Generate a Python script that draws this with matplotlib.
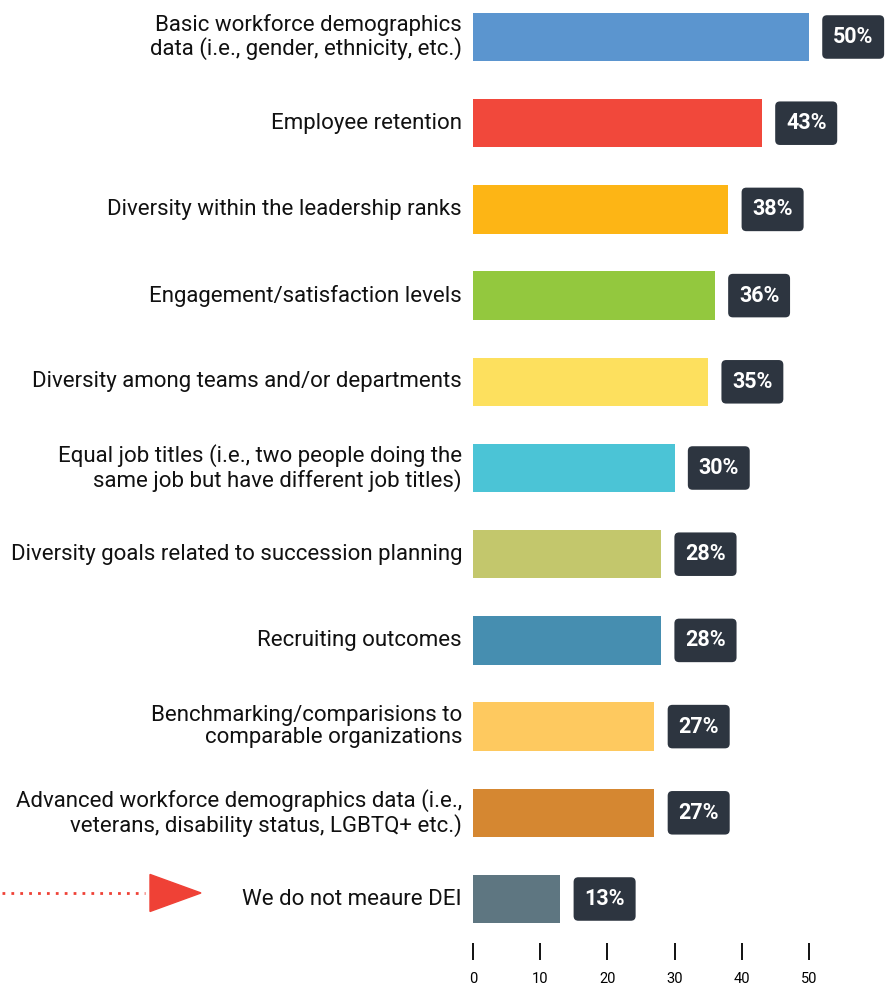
import numpy as np
import matplotlib
matplotlib.use('Agg')
from matplotlib import pyplot as plt
from matplotlib.patches import Polygon
import matplotlib.transforms as mtransforms

plt.rcParams['font.family'] = ['Roboto', 'DejaVu Sans']

labels = ['Basic workforce demographics\ndata (i.e., gender, ethnicity, etc.)',
          'Employee retention',
          'Diversity within the leadership ranks',
          'Engagement/satisfaction levels',
          'Diversity among teams and/or departments',
          'Equal job titles (i.e., two people doing the\nsame job but have different job titles)',
          'Diversity goals related to succession planning',
          'Recruiting outcomes',
          'Benchmarking/comparisions to\ncomparable organizations',
          'Advanced workforce demographics data (i.e.,\nveterans, disability status, LGBTQ+ etc.)',
          'We do not meaure DEI']
values = [50, 43, 38, 36, 35, 30, 28, 28, 27, 27, 13]
colors = ['#5b95cf', '#f1483b', '#fdb515', '#93c83e', '#fde05e', '#4bc4d6',
          '#c3c76c', '#468eb0', '#fec95f', '#d58731', '#5e7681']
xticks = [0, 10, 20, 30, 40, 50]

W, H = 885, 985
fig = plt.figure(figsize=(W/100, H/100), dpi=100)
ax = fig.add_axes([473/W, 1-943/H, 1-473/W, 943/H])

y = np.arange(len(values))
ax.barh(y, values, height=0.56, color=colors)
ax.set_xlim(0, (W-473)/6.72)
ax.set_ylim((943-37)/86.2, -37/86.2)

# value boxes
for yi, v in zip(y, values):
    ax.annotate(f'{v}%', (v, yi), xytext=(24, 0), textcoords='offset pixels',
                ha='left', va='center', fontsize=15.5, fontweight='bold', color='white',
                bbox=dict(boxstyle='round,pad=0.5,rounding_size=0.22', fc='#2d3540', ec='none'))

# category labels
for yi, lab in zip(y, labels):
    ax.annotate(lab, (0, yi), xytext=(-11, 0), textcoords='offset pixels',
                ha='right', va='center', fontsize=16, color='#111111',
                linespacing=1.1, annotation_clip=False)

ax.set_yticks([])
ax.set_xticks(xticks)
ax.tick_params(axis='x', length=12, width=1.4, pad=9, labelsize=10.5, color='#111111')
for s in ax.spines.values():
    s.set_visible(False)

# red arrow pointing at the last category
tr = mtransforms.blended_transform_factory(fig.transFigure, ax.transData)
yl = y[-1] - 0.07
ax.plot([2/W, 145/W], [yl, yl], transform=tr, color='#ef4136', lw=2,
        linestyle=(0, (1, 2.2)), clip_on=False)
tri = Polygon([[150/W, yl - 0.215], [150/W, yl + 0.215], [201/W, yl]],
              closed=True, transform=tr, color='#ef4136', clip_on=False)
ax.add_patch(tri)

plt.savefig('out.png', dpi=100)
